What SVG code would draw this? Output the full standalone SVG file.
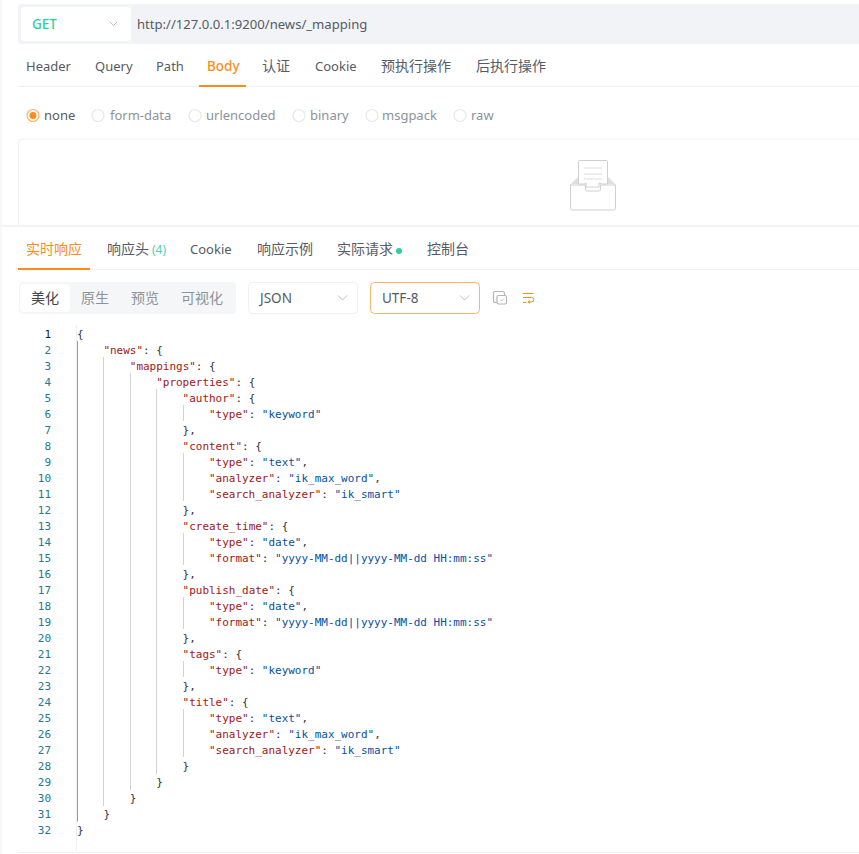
<svg xmlns="http://www.w3.org/2000/svg" width="859" height="854" viewBox="0 0 859 854">
<style>
text{font-family:"Noto Sans","Noto Sans CJK SC",sans-serif;font-size:13px;fill:#555b66}
.cjk{font-family:"Noto Sans CJK SC","Noto Sans",sans-serif;font-size:14px}
.on{fill:#ff8c1a}
.dim{fill:#8d929b}
.radio{fill:#fff;stroke:#e8e8e8;stroke-width:1.2}
.rule{stroke:#f0f0f0;stroke-width:1;fill:none}
.chev{fill:none;stroke:#b8bcc4;stroke-width:1}
.code text,.nums text{font-family:"DejaVu Sans Mono","Liberation Mono",monospace;font-size:10.970px}
.code text{fill:#333}
.code .k{fill:#a31515}
.code .s{fill:#0451a5}
.nums text{fill:#237893;text-anchor:end}
.guide{stroke:#d3d3d3;stroke-width:1;fill:none}
.ic{fill:none;stroke:#cfcfcf;stroke-width:1}
</style>
<rect width="859" height="854" fill="#fff"/>
<rect x="0" y="0" width="2" height="854" fill="#f8f8f8"/>

<g id="url-bar">
<rect x="18" y="4" width="850" height="40" rx="4" fill="#f1f3f7"/>
<rect x="21" y="7" width="110" height="34" rx="4" fill="#fff"/>
<text x="32" y="29" style="fill:#2ecfa0;font-weight:500;font-size:13.500px">GET</text>
<path class="chev" d="M110 22l3.500 3.500 3.500-3.500"/>
<text x="137" y="29" style="font-size:13.100px">http://127.0.0.1:9200/news/_mapping</text>
</g>

<g id="request-tabs">
<text x="26" y="71">Header</text>
<text x="95" y="71">Query</text>
<text x="156" y="71">Path</text>
<text x="207" y="71" class="on" style="font-weight:500;font-size:13.500px">Body</text>
<text x="262" y="71" class="cjk">认证</text>
<text x="315" y="71">Cookie</text>
<text x="381" y="71" class="cjk">预执行操作</text>
<text x="476" y="71" class="cjk">后执行操作</text>
<path class="rule" d="M18 86.500H859"/>
<rect x="199" y="85" width="47" height="2" fill="#ff8c1a"/>
</g>

<g id="body-types">
<circle cx="33" cy="115.500" r="6" fill="#fff" stroke="#ffb366" stroke-width="1.200"/>
<circle cx="33" cy="115.500" r="3.500" fill="#ff8c1a"/>
<text x="44" y="120">none</text>
<circle class="radio" cx="98" cy="115.500" r="6"/>
<text x="110" y="120" class="dim">form-data</text>
<circle class="radio" cx="195" cy="115.500" r="6"/>
<text x="206" y="120" class="dim">urlencoded</text>
<circle class="radio" cx="299" cy="115.500" r="6"/>
<text x="310" y="120" class="dim">binary</text>
<circle class="radio" cx="372" cy="115.500" r="6"/>
<text x="382" y="120" class="dim">msgpack</text>
<circle class="radio" cx="460" cy="115.500" r="6"/>
<text x="471" y="120" class="dim">raw</text>
</g>

<g id="empty-body">
<path class="rule" d="M18.500 226V143a4 4 0 0 1 4-4H859"/>
<path class="ic" d="M578.500 177l-8 8v23a2 2 0 0 0 2 2h41a2 2 0 0 0 2-2v-23l-8-8"/>
<path d="M572 184l7-7v7zM614 184l-7-7v7z" fill="#dedede"/>
<path class="ic" d="M570.500 185H585.500v4.500a1.500 1.500 0 0 0 1.500 1.500h12a1.500 1.500 0 0 0 1.500-1.500V185H615.500"/>
<path d="M578.500 184V161.500a1 1 0 0 1 1-1h27a1 1 0 0 1 1 1V184h-7v-1h-1.500v4h-13v-4H585.500v1z" fill="#fff" stroke="#cfcfcf" stroke-width="1"/>
<path d="M584 168h18M584 174h18M584 179h18" stroke="#dcdcdc" stroke-width="1" fill="none"/>
<rect x="0" y="225" width="859" height="2" fill="#f3f3f3"/>
</g>

<g id="response-tabs">
<text x="26" y="254" class="cjk on">实时响应</text>
<text x="107" y="254" class="cjk">响应头</text>
<text x="152" y="254" style="fill:#4fd1b0;font-size:12px">(4)</text>
<text x="190" y="254">Cookie</text>
<text x="257" y="254" class="cjk">响应示例</text>
<text x="337" y="254" class="cjk">实际请求</text>
<circle cx="399" cy="251" r="3" fill="#2ecfa0"/>
<text x="427" y="254" class="cjk">控制台</text>
<path class="rule" d="M18 269.500H859"/>
<rect x="18" y="268" width="72" height="2" fill="#ff8c1a"/>
</g>

<g id="response-toolbar">
<rect x="19" y="282" width="217" height="32" rx="4" fill="#f5f6f8"/>
<rect x="20" y="284" width="50" height="28" rx="4" fill="#fff"/>
<text x="31" y="303" class="cjk" style="fill:#444">美化</text>
<text x="81" y="303" class="cjk dim">原生</text>
<text x="131" y="303" class="cjk dim">预览</text>
<text x="181" y="303" class="cjk dim">可视化</text>
<rect x="248.500" y="282.500" width="109" height="31" rx="4" fill="#fff" stroke="#f0f0f0"/>
<text x="260" y="303" style="font-size:13.500px">JSON</text>
<path class="chev" d="M338 295.500l4.500 4.500 4.500-4.500"/>
<rect x="370.500" y="282.500" width="109" height="31" rx="4" fill="#fff" stroke="#ffb366"/>
<text x="382" y="303" style="font-size:13.500px">UTF-8</text>
<path class="chev" d="M460 295.500l4.500 4.500 4.500-4.500"/>
<path d="M497 302.500h-1.500a2 2 0 0 1-2-2v-7a2 2 0 0 1 2-2h7a2 2 0 0 1 2 2v1.500" fill="none" stroke="#b5b5b5" stroke-width="1.200"/>
<rect x="497" y="295.500" width="9.500" height="8.500" rx="1.500" fill="none" stroke="#b5b5b5" stroke-width="1.200"/>
<path d="M500 299.500l1.500 1.500 2.500-2.500" fill="none" stroke="#b5b5b5" stroke-width=".8"/>
<path d="M523 293.500h10M523 297.500h8.500a2 2 0 0 1 0 4.500h-3M523 302.500h3.500M530 300.500l-2 1.500 2 1.500" fill="none" stroke="#ff8c1a" stroke-width="1"/>
</g>

<g id="gutter" class="nums">
<text x="51" y="338" style="fill:#0b216f">1</text><text x="51" y="354">2</text><text x="51" y="370">3</text><text x="51" y="386">4</text><text x="51" y="402">5</text><text x="51" y="418">6</text><text x="51" y="434">7</text><text x="51" y="450">8</text><text x="51" y="466">9</text><text x="51" y="482">10</text><text x="51" y="498">11</text><text x="51" y="514">12</text><text x="51" y="530">13</text><text x="51" y="546">14</text><text x="51" y="562">15</text><text x="51" y="578">16</text><text x="51" y="594">17</text><text x="51" y="610">18</text><text x="51" y="626">19</text><text x="51" y="642">20</text><text x="51" y="658">21</text><text x="51" y="674">22</text><text x="51" y="690">23</text><text x="51" y="706">24</text><text x="51" y="722">25</text><text x="51" y="738">26</text><text x="51" y="754">27</text><text x="51" y="770">28</text><text x="51" y="786">29</text><text x="51" y="802">30</text><text x="51" y="818">31</text><text x="51" y="834">32</text>
</g>

<g id="indent-guides">
<path d="M76.500 325V851" stroke="#f0f0f0" fill="none"/>
<path d="M77.500 341V821.500" stroke="#9a9a9a" fill="none"/>
<path class="guide" d="M103.500 357V806M130.500 373V790M156.500 389V774M183.500 405V421M183.500 453V501M183.500 533V565M183.500 597V629M183.500 661V677M183.500 709V757"/>
</g>

<g id="code" class="code">
<text x="77" y="338">{</text>
<text x="103.400" y="354"><tspan class="k">"news"</tspan>: {</text>
<text x="129.800" y="370"><tspan class="k">"mappings"</tspan>: {</text>
<text x="156.200" y="386"><tspan class="k">"properties"</tspan>: {</text>
<text x="182.600" y="402"><tspan class="k">"author"</tspan>: {</text>
<text x="209" y="418"><tspan class="k">"type"</tspan>: <tspan class="s">"keyword"</tspan></text>
<text x="182.600" y="434">},</text>
<text x="182.600" y="450"><tspan class="k">"content"</tspan>: {</text>
<text x="209" y="466"><tspan class="k">"type"</tspan>: <tspan class="s">"text"</tspan>,</text>
<text x="209" y="482"><tspan class="k">"analyzer"</tspan>: <tspan class="s">"ik_max_word"</tspan>,</text>
<text x="209" y="498"><tspan class="k">"search_analyzer"</tspan>: <tspan class="s">"ik_smart"</tspan></text>
<text x="182.600" y="514">},</text>
<text x="182.600" y="530"><tspan class="k">"create_time"</tspan>: {</text>
<text x="209" y="546"><tspan class="k">"type"</tspan>: <tspan class="s">"date"</tspan>,</text>
<text x="209" y="562"><tspan class="k">"format"</tspan>: <tspan class="s">"yyyy-MM-dd||yyyy-MM-dd HH:mm:ss"</tspan></text>
<text x="182.600" y="578">},</text>
<text x="182.600" y="594"><tspan class="k">"publish_date"</tspan>: {</text>
<text x="209" y="610"><tspan class="k">"type"</tspan>: <tspan class="s">"date"</tspan>,</text>
<text x="209" y="626"><tspan class="k">"format"</tspan>: <tspan class="s">"yyyy-MM-dd||yyyy-MM-dd HH:mm:ss"</tspan></text>
<text x="182.600" y="642">},</text>
<text x="182.600" y="658"><tspan class="k">"tags"</tspan>: {</text>
<text x="209" y="674"><tspan class="k">"type"</tspan>: <tspan class="s">"keyword"</tspan></text>
<text x="182.600" y="690">},</text>
<text x="182.600" y="706"><tspan class="k">"title"</tspan>: {</text>
<text x="209" y="722"><tspan class="k">"type"</tspan>: <tspan class="s">"text"</tspan>,</text>
<text x="209" y="738"><tspan class="k">"analyzer"</tspan>: <tspan class="s">"ik_max_word"</tspan>,</text>
<text x="209" y="754"><tspan class="k">"search_analyzer"</tspan>: <tspan class="s">"ik_smart"</tspan></text>
<text x="182.600" y="770">}</text>
<text x="156.200" y="786">}</text>
<text x="129.800" y="802">}</text>
<text x="103.400" y="818">}</text>
<text x="77" y="834">}</text>
</g>
<path class="rule" d="M18 852.500H859"/>
</svg>
